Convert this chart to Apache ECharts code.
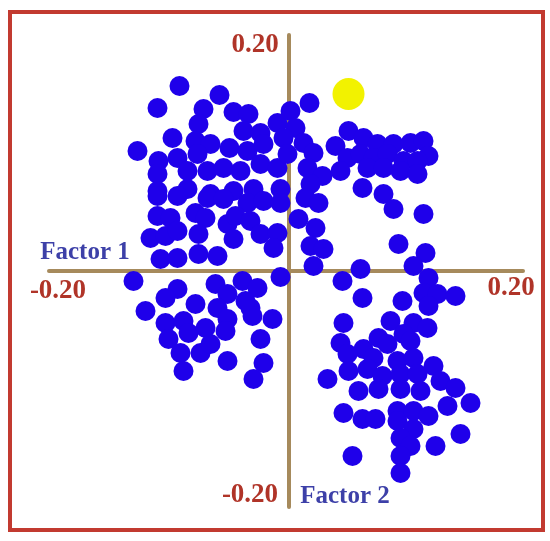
<!DOCTYPE html>
<html>
<head>
<meta charset="utf-8">
<title>Factor 1 / Factor 2</title>
<script src="https://cdn.jsdelivr.net/npm/echarts@6/dist/echarts.min.js"></script>
<style>
  html, body { margin: 0; padding: 0; background: #fff; }
  #chart { width: 550px; height: 541px; }
</style>
</head>
<body>
<div id="chart"></div>
<script>
// factor scores, grouped by area of the plot
const upperLeftF1 = [-0.109,-0.069,-0.131,-0.085,-0.055,-0.040,-0.090,-0.116,-0.093,-0.078,-0.059,-0.045,-0.028,-0.011,-0.151,-0.130,-0.111,-0.091,-0.041,-0.025,-0.131,-0.101,-0.081,-0.065,-0.048,-0.028,-0.011,-0.131,-0.101,-0.078,-0.055,-0.035,-0.008];
const upperLeftF2 = [0.185,0.176,0.163,0.162,0.159,0.157,0.147,0.133,0.130,0.127,0.123,0.140,0.138,0.148,0.120,0.110,0.113,0.117,0.120,0.127,0.097,0.100,0.100,0.103,0.100,0.107,0.103,0.080,0.082,0.077,0.080,0.082,0.082];

const nearAxisF1 = [0.021,0.002,0.007,-0.005,0.015,0.025,-0.001,0.019,0.034,0.022,0.017,0.030,0.010,0.027,0.022,0.035,0.025];
const nearAxisF2 = [0.168,0.160,0.143,0.133,0.128,0.118,0.117,0.103,0.095,0.087,0.073,0.068,0.052,0.043,0.025,0.022,0.005];

const leftMiddleF1 = [-0.131,-0.111,-0.081,-0.065,-0.041,-0.025,-0.008,-0.131,-0.118,-0.093,-0.083,-0.061,-0.053,-0.038,-0.028,-0.011,-0.138,-0.123,-0.111,-0.090,-0.055,-0.015,-0.128,-0.111,-0.090,-0.071];
const leftMiddleF2 = [0.075,0.075,0.073,0.072,0.068,0.070,0.068,0.055,0.053,0.058,0.053,0.047,0.055,0.050,0.037,0.038,0.033,0.035,0.040,0.037,0.032,0.023,0.012,0.013,0.017,0.015];

const lowerLeftF1 = [-0.155,-0.111,-0.123,-0.093,-0.073,-0.061,-0.046,-0.031,-0.008,-0.143,-0.123,-0.105,-0.071,-0.038,-0.036,-0.061,-0.016,-0.120,-0.100,-0.083,-0.063,-0.108,-0.088,-0.078,-0.028,-0.061,-0.025,-0.105,-0.035,-0.043];
const lowerLeftF2 = [-0.010,-0.018,-0.027,-0.033,-0.013,-0.023,-0.010,-0.017,-0.006,-0.040,-0.052,-0.050,-0.037,-0.037,-0.045,-0.048,-0.048,-0.068,-0.062,-0.057,-0.060,-0.082,-0.082,-0.073,-0.068,-0.090,-0.092,-0.100,-0.108,-0.030];

const upperRightF1 = [0.060,0.047,0.075,0.089,0.105,0.122,0.135,0.140,0.059,0.072,0.085,0.099,0.115,0.129,0.052,0.079,0.095,0.112,0.129,0.074,0.095,0.105,0.135];
const upperRightF2 = [0.140,0.125,0.133,0.127,0.127,0.128,0.130,0.115,0.113,0.117,0.113,0.117,0.110,0.110,0.100,0.103,0.103,0.100,0.097,0.083,0.077,0.062,0.057];

const midRightF1 = [0.110,0.137,0.125,0.054,0.072,0.074,0.114,0.140,0.135,0.149,0.167,0.140];
const midRightF2 = [0.027,0.018,0.005,-0.010,0.002,-0.027,-0.030,-0.007,-0.022,-0.023,-0.025,-0.035];

const lowerRightF1 = [0.055,0.102,0.125,0.139,0.090,0.115,0.052,0.075,0.099,0.122,0.059,0.085,0.109,0.125,0.145,0.060,0.079,0.094,0.112,0.129,0.152,0.167,0.039,0.070,0.090,0.112,0.132,0.182,0.055,0.074,0.087,0.109,0.109,0.125,0.140,0.159,0.125,0.112,0.122,0.112,0.112,0.147,0.172,0.064];
const lowerRightF2 = [-0.052,-0.050,-0.052,-0.057,-0.067,-0.063,-0.072,-0.078,-0.073,-0.070,-0.083,-0.087,-0.090,-0.087,-0.095,-0.100,-0.098,-0.105,-0.103,-0.103,-0.110,-0.117,-0.108,-0.120,-0.118,-0.118,-0.120,-0.132,-0.142,-0.148,-0.148,-0.140,-0.150,-0.140,-0.145,-0.135,-0.158,-0.167,-0.175,-0.185,-0.202,-0.175,-0.163,-0.185];

// the single highlighted (yellow) case
const highlightF1 = [0.060];
const highlightF2 = [0.177];

const axisNames = ['Factor 1', 'Factor 2'];
const tickLabels = ['-0.20', '0.20'];

const blueF1 = [].concat(upperLeftF1, nearAxisF1, leftMiddleF1, lowerLeftF1, upperRightF1, midRightF1, lowerRightF1);
const blueF2 = [].concat(upperLeftF2, nearAxisF2, leftMiddleF2, lowerLeftF2, upperRightF2, midRightF2, lowerRightF2);
const bluePoints = blueF1.map((v, i) => [v, blueF2[i]]);
const yellowPoints = highlightF1.map((v, i) => [v, highlightF2[i]]);

const axisColor = '#a68a5c';
const labelRed = '#b03428';
const labelBlue = '#3d40a8';
const serif = '"Liberation Serif", "Times New Roman", serif';

const hiddenParts = {
  axisTick: { show: false },
  axisLabel: { show: false },
  splitLine: { show: false }
};

const textEl = (text, x, y, color, size) => ({
  type: 'text',
  z: 10,
  style: {
    text: text,
    x: x,
    y: y,
    fill: color,
    font: 'bold ' + size + 'px ' + serif,
    align: 'center',
    verticalAlign: 'middle'
  }
});

const chart = echarts.init(document.getElementById('chart'));

const option = {
  backgroundColor: '#ffffff',
  animation: false,
  grid: { left: 49, right: 27, top: 35, bottom: 34 },
  xAxis: {
    type: 'value',
    min: -0.2395,
    max: 0.2345,
    axisLine: { onZero: true, lineStyle: { color: axisColor, width: 4, cap: 'round' } },
    ...hiddenParts
  },
  yAxis: {
    type: 'value',
    min: -0.236,
    max: 0.236,
    axisLine: { onZero: true, lineStyle: { color: axisColor, width: 4, cap: 'round' } },
    ...hiddenParts
  },
  series: [
    {
      type: 'scatter',
      data: bluePoints,
      symbolSize: 20,
      itemStyle: { color: '#1f00ea', opacity: 1 }
    },
    {
      type: 'scatter',
      data: yellowPoints,
      symbolSize: 32,
      itemStyle: { color: '#f2f200', opacity: 1 }
    }
  ],
  graphic: [
    {
      type: 'rect',
      z: 10,
      shape: { x: 10, y: 12, width: 533, height: 518 },
      style: { fill: 'none', stroke: '#c23a30', lineWidth: 4 }
    },
    textEl(tickLabels[1], 255, 45, labelRed, 27),
    textEl(tickLabels[0], 58, 291, labelRed, 27),
    textEl(tickLabels[1], 511, 288, labelRed, 27),
    textEl(tickLabels[0], 250, 495, labelRed, 27),
    textEl(axisNames[0], 85, 253, labelBlue, 25),
    textEl(axisNames[1], 345, 497, labelBlue, 25)
  ]
};

chart.setOption(option);
</script>
</body>
</html>
